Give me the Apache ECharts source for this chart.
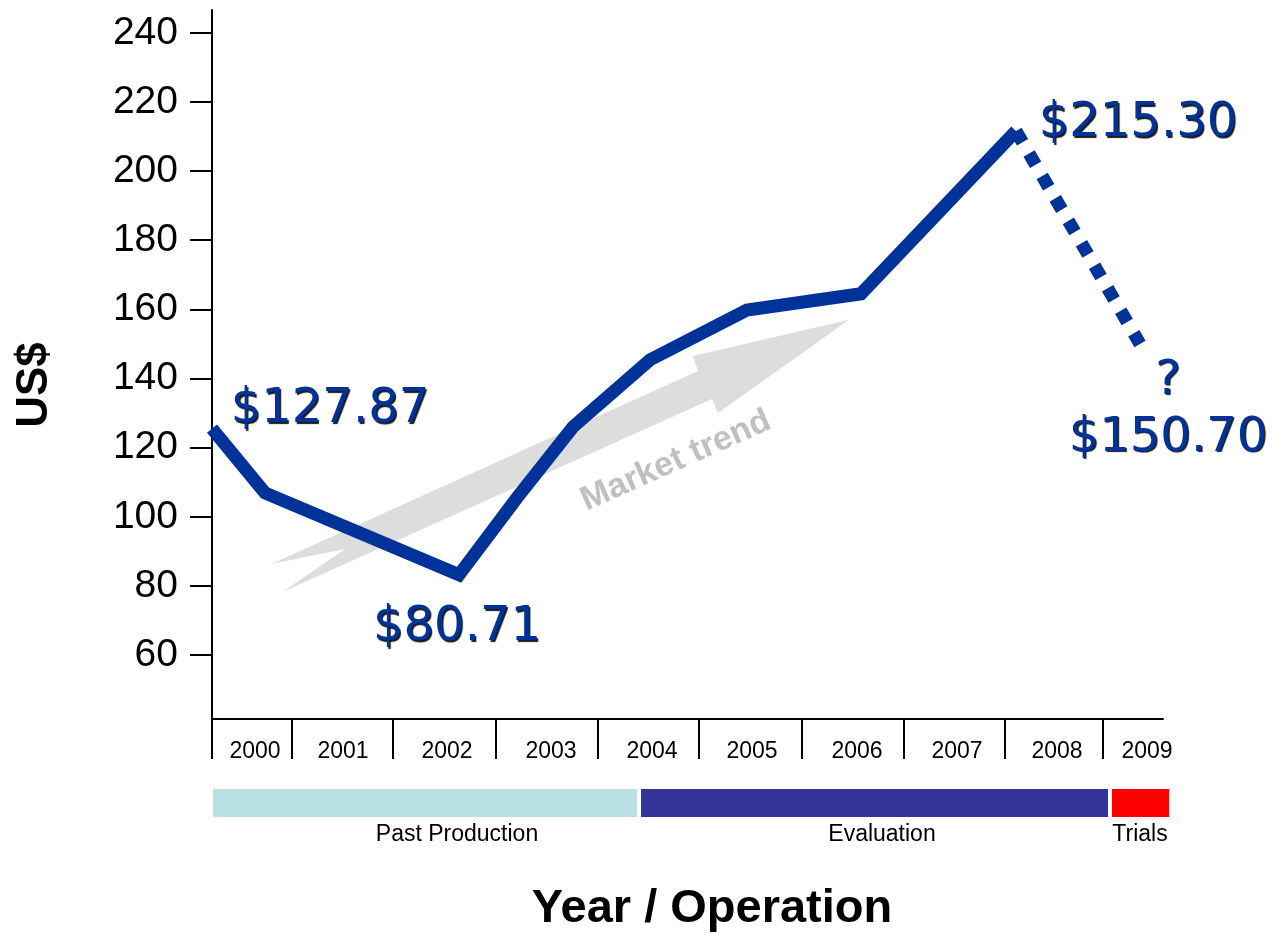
<!DOCTYPE html>
<html>
<head>
<meta charset="utf-8">
<script src="https://cdn.jsdelivr.net/npm/echarts@6/dist/echarts.min.js"></script>
<style>
  html, body { margin: 0; padding: 0; background: #fff; }
  #main { width: 1274px; height: 934px; }
</style>
</head>
<body>
<div id="main"></div>
<script>
// year axis: x is measured in "year slots", boundaries between years are uneven
var yearLabels = ['2000', '2001', '2002', '2003', '2004', '2005', '2006', '2007', '2008', '2009'];
var yearCenters = [0.43, 1.31, 2.35, 3.39, 4.40, 5.40, 6.45, 7.45, 8.45, 9.35];
var yearBounds = [0, 0.80, 1.81, 2.84, 3.86, 4.87, 5.90, 6.92, 7.93, 8.91];
var yTicks = [60, 80, 100, 120, 140, 160, 180, 200, 220, 240];

// price line (US$)
var priceX = [0, 0.53, 2.47, 3.05, 3.61, 4.38, 5.35, 6.49, 8.04];
var priceY = [125.5, 106.9, 83.2, 105.5, 126.0, 145.4, 159.8, 164.5, 211.6];
// forecast (dotted)
var forecastX = [8.04, 9.28];
var forecastY = [211.6, 150.0];

// value callouts, tied to points
var noteText = ['$127.87', '$80.71', '$215.30', '?\n$150.70'];
var noteX = [0, 2.47, 8.04, 9.28];
var noteY = [125.5, 83.2, 211.6, 150.0];
var noteOffset = [[118, -19], [-2, 53], [122, -7], [28, 66]];

// market trend arrow outline
var trendX = [6.37, 4.81, 4.86, 0.60, 1.33, 0.71, 5.00, 5.06];
var trendY = [157.0, 146.5, 142.2, 86.4, 90.7, 78.3, 134.1, 130.0];

// operation phases
var phaseNames = ['Past Production', 'Evaluation', 'Trials'];
var phaseStart = [0.01, 4.29, 9.00];
var phaseEnd = [4.25, 8.96, 9.57];
var phaseLabelX = [2.45, 6.70, 9.28];
var phaseColors = ['#b9e0e3', '#333399', '#ff0000'];

var blue = '#003399';
var font = '"Liberation Sans", Arial, sans-serif';

var chart = echarts.init(document.getElementById('main'));

var priceData = priceX.map(function (x, i) { return [x, priceY[i]]; });
var forecastData = forecastX.map(function (x, i) { return [x, forecastY[i]]; });
var noteData = noteX.map(function (x, i) {
  return {
    value: [x, noteY[i]],
    label: { formatter: noteText[i], offset: noteOffset[i] }
  };
});
var phaseData = phaseNames.map(function (n, i) {
  return [phaseStart[i], phaseEnd[i], phaseLabelX[i], i];
});

var option = {
  animation: false,
  backgroundColor: '#fff',
  grid: [
    { left: 212, top: 10, width: 951, height: 709 },
    { left: 212, top: 789, width: 957, height: 28 }
  ],
  xAxis: [{
    type: 'value',
    gridIndex: 0,
    min: 0,
    max: 9.51,
    splitLine: { show: false },
    axisLine: { show: true, lineStyle: { color: '#000', width: 2 } },
    axisTick: {
      show: true,
      customValues: yearBounds,
      length: 40,
      lineStyle: { color: '#000', width: 2 }
    },
    axisLabel: {
      customValues: yearCenters,
      margin: 21,
      color: '#000',
      fontSize: 23,
      fontFamily: font,
      formatter: function (v) {
        for (var i = 0; i < yearCenters.length; i++) {
          if (Math.abs(yearCenters[i] - v) < 1e-6) return yearLabels[i];
        }
        return '';
      }
    }
  }, {
    type: 'value',
    gridIndex: 1,
    min: 0,
    max: 9.57,
    show: false
  }],
  yAxis: [{
    type: 'value',
    gridIndex: 0,
    min: 41.5,
    max: 246.6,
    splitLine: { show: false },
    axisLine: { show: true, lineStyle: { color: '#000', width: 2 } },
    axisTick: {
      show: true,
      customValues: yTicks,
      length: 22,
      lineStyle: { color: '#000', width: 2 }
    },
    axisLabel: {
      customValues: yTicks,
      margin: 34,
      color: '#000',
      fontSize: 39,
      fontFamily: font
    }
  }, {
    type: 'value',
    gridIndex: 1,
    min: 0,
    max: 1,
    show: false
  }],
  series: [
    {
      // grey "Market trend" arrow behind the line
      type: 'custom',
      xAxisIndex: 0,
      yAxisIndex: 0,
      silent: true,
      z: 1,
      data: [[0]],
      renderItem: function (params, api) {
        var pts = trendX.map(function (x, i) { return api.coord([x, trendY[i]]); });
        var c = api.coord([4.64, 116.2]);
        return {
          type: 'group',
          children: [{
            type: 'polygon',
            shape: { points: pts },
            style: { fill: '#dddddd' }
          }, {
            type: 'text',
            x: c[0],
            y: c[1],
            rotation: 24 * Math.PI / 180,
            style: {
              text: 'Market trend',
              fill: '#c0c0c0',
              font: 'bold 34px ' + font,
              align: 'center',
              verticalAlign: 'middle'
            }
          }]
        };
      }
    },
    {
      name: 'Price',
      type: 'line',
      data: priceData,
      showSymbol: false,
      z: 3,
      lineStyle: { color: blue, width: 13, join: 'miter', cap: 'butt' }
    },
    {
      name: 'Forecast',
      type: 'line',
      data: forecastData,
      showSymbol: false,
      z: 3,
      lineStyle: { color: blue, width: 13, type: [13, 13], cap: 'butt' }
    },
    {
      name: 'Notes',
      type: 'scatter',
      data: noteData,
      symbolSize: 1,
      clip: false,
      silent: true,
      z: 4,
      itemStyle: { color: 'rgba(0,0,0,0)', opacity: 1 },
      label: {
        show: true,
        position: 'inside',
        align: 'center',
        verticalAlign: 'middle',
        color: blue,
        fontSize: 48,
        lineHeight: 57,
        fontFamily: '"DejaVu Sans", Verdana, sans-serif',
        textBorderWidth: 0,
        textBorderColor: 'transparent',
        textShadowColor: 'rgba(0,0,0,0.9)',
        textShadowOffsetX: 1.5,
        textShadowOffsetY: 1.5,
        textShadowBlur: 1
      }
    },
    {
      // operation phase strip under the year axis
      type: 'custom',
      xAxisIndex: 1,
      yAxisIndex: 1,
      silent: true,
      data: phaseData,
      renderItem: function (params, api) {
        var p0 = api.coord([api.value(0), 1]);
        var p1 = api.coord([api.value(1), 0]);
        var lx = api.coord([api.value(2), 0])[0];
        var i = api.value(3);
        return {
          type: 'group',
          children: [{
            type: 'rect',
            shape: { x: p0[0], y: p0[1], width: p1[0] - p0[0], height: p1[1] - p0[1] },
            style: { fill: phaseColors[i] }
          }, {
            type: 'text',
            x: lx,
            y: p1[1] + 18,
            style: {
              text: phaseNames[i],
              fill: '#000',
              font: '23px ' + font,
              align: 'center',
              verticalAlign: 'middle'
            }
          }]
        };
      }
    }
  ],
  graphic: [{
    type: 'text',
    x: 35,
    y: 385,
    rotation: Math.PI / 2,
    style: {
      text: 'US$',
      fill: '#000',
      font: 'bold 44px ' + font,
      align: 'center',
      verticalAlign: 'middle'
    }
  }, {
    type: 'text',
    x: 712,
    y: 909,
    style: {
      text: 'Year / Operation',
      fill: '#000',
      font: 'bold 47px ' + font,
      align: 'center',
      verticalAlign: 'middle'
    }
  }]
};

chart.setOption(option);
</script>
</body>
</html>
